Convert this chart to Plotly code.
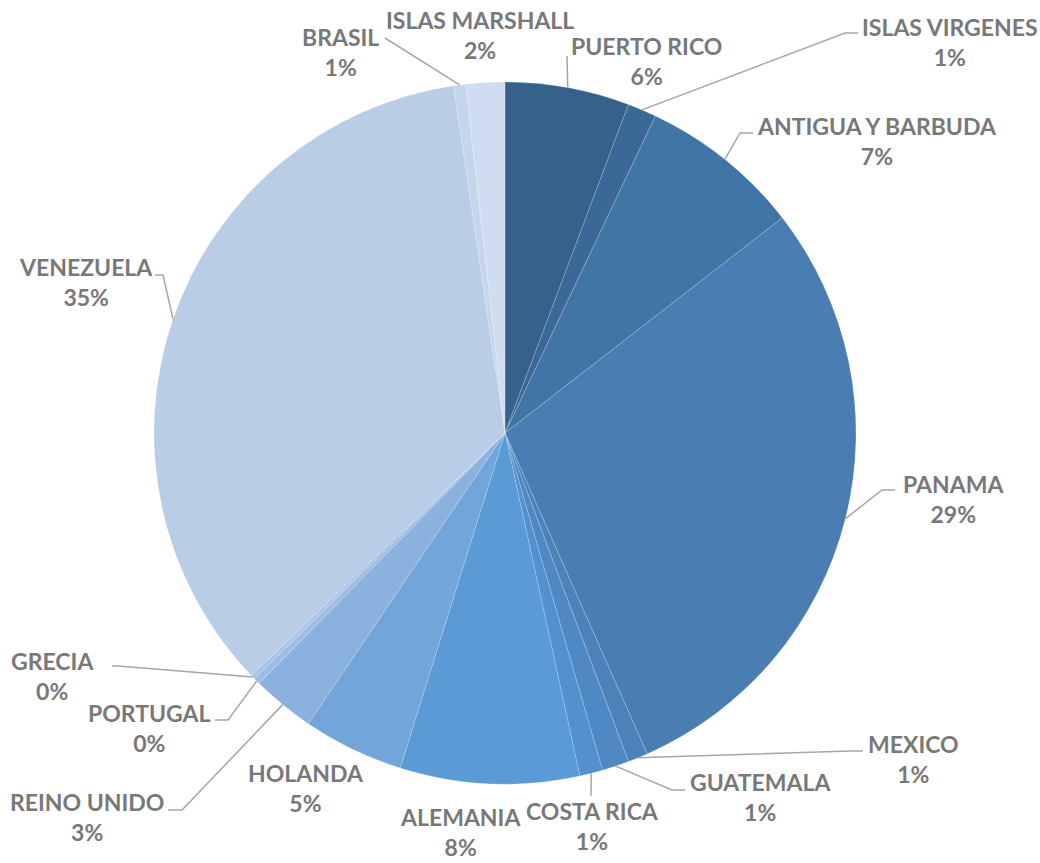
import math
import plotly.graph_objects as go

W, H = 1040, 863

# ---- data (percent shares) ----
paises = ["PUERTO RICO", "ISLAS VIRGENES", "ANTIGUA Y BARBUDA", "PANAMA", "MEXICO",
          "GUATEMALA", "COSTA RICA", "ALEMANIA", "HOLANDA", "REINO UNIDO",
          "PORTUGAL", "GRECIA", "VENEZUELA", "BRASIL", "ISLAS MARSHALL"]
valores = [5.72, 1.33, 7.45, 28.86, 0.92,
           1.24, 1.06, 8.25, 4.64, 2.89,
           0.30, 0.20, 34.80, 0.55, 1.79]

colores = ["#36618B", "#3B6997", "#4175A6", "#4A7EB2", "#4B82BA",
           "#4F89C4", "#5391CD", "#5A9AD6", "#72A6DB", "#8BB1DF",
           "#9DBCE3", "#A9C4E6", "#B9CDE7", "#C5D6EC", "#D0DDF0"]

# ---- layout: label centre positions (px) and leader-line anchor points (px) ----
# (label_x, label_y_first_line, leader_elbow or None, leader_end or None)
etiquetas = {
    "PUERTO RICO":       (646, 47, None, (567, 56)),
    "ISLAS VIRGENES":    (950, 28, (845, 33), (858, 33)),
    "ANTIGUA Y BARBUDA": (877, 127, (740, 133), (753, 133)),
    "PANAMA":            (953, 485, (882, 490), (895, 490)),
    "MEXICO":            (913, 745, (850, 751), (863, 751)),
    "GUATEMALA":         (760, 783, (672, 790), (685, 790)),
    "COSTA RICA":        (592, 812, None, (591, 796)),
    "ALEMANIA":          (460, 818, None, None),
    "HOLANDA":           (306, 774, None, None),
    "REINO UNIDO":       (87, 803, (182, 810), (168, 810)),
    "PORTUGAL":          (149, 714, (228, 720), (215, 720)),
    "GRECIA":            (52, 662, (118, 666), (112, 666)),
    "VENEZUELA":         (86, 268, (163, 275), (155, 275)),
    "BRASIL":            (340, 38, None, (385, 38)),
    "ISLAS MARSHALL":    (480, 21, None, None),
}

CX, CY, R = 505, 433, 351
GRIS = "#787878"
FONT = "Lato, Open Sans, Roboto, sans-serif"

def px(x):
    return x / W

def py(y):
    return 1 - y / H

fig = go.Figure()
fig.add_trace(go.Pie(
    labels=paises, values=valores, sort=False, direction="clockwise", rotation=0,
    marker=dict(colors=colores, line=dict(color="rgba(255,255,255,0.35)", width=0.5)),
    textinfo="none", hoverinfo="label+percent", showlegend=False,
    domain=dict(x=[px(CX - R), px(CX + R)], y=[py(CY + R), py(CY - R)]),
))

total = sum(valores)
acum = 0.0
annotations = []
shapes = []
for nombre, v in zip(paises, valores):
    mid = (acum + v / 2) / total * 2 * math.pi
    acum += v
    pct = round(v / total * 100)
    lx, ly, elbow, end = etiquetas[nombre]
    annotations.append(dict(
        x=px(lx), y=py(ly), xref="paper", yref="paper",
        text=f"<b>{nombre}</b><br><b>{pct}%</b>", showarrow=False,
        xanchor="center", yanchor="middle", align="center",
        font=dict(family=FONT, size=23, color=GRIS),
        yshift=-14,
    ))
    if end is not None:
        sx = CX + R * math.sin(mid)
        sy = CY - R * math.cos(mid)
        pts = [(sx, sy)]
        if elbow is not None:
            pts.append(elbow)
        pts.append(end)
        path = "M " + " L ".join(f"{px(a)},{py(b)}" for a, b in pts)
        shapes.append(dict(type="path", path=path, xref="paper", yref="paper",
                           line=dict(color="#A6A6A6", width=1.5)))

fig.update_layout(
    width=W, height=H, margin=dict(l=0, r=0, t=0, b=0),
    paper_bgcolor="white", plot_bgcolor="white",
    annotations=annotations, shapes=shapes,
)

fig.write_html("out.html", config={"displayModeBar": False},
               post_script="document.body.style.margin='0';")
